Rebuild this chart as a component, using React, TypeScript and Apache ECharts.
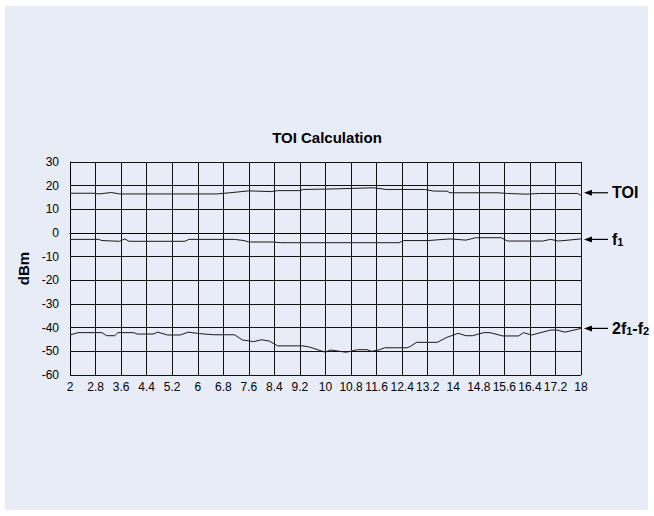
import React, { useEffect, useRef } from 'react';
import * as echarts from 'echarts';

// Frequency axis (GHz): ticks every 0.8 GHz starting at 2 GHz
const X0 = 2;
const X_STEP = 0.8;
const xTickLabels = ['2', '2.8', '3.6', '4.4', '5.2', '6', '6.8', '7.6', '8.4', '9.2', '10', '10.8', '11.6', '12.4', '13.2', '14', '14.8', '15.6', '16.4', '17.2', '18'];
const yMin = -60;
const yMax = 30;
const yStep = 10;

// [frequency GHz, dBm]
const toiData: [number, number][] = [
  [2.0, 16.8], [2.75, 16.8], [2.9, 16.5], [3.3, 17.1], [3.55, 16.5], [6.6, 16.5], [7.0, 17.0],
  [7.6, 17.8], [8.3, 17.5], [8.5, 17.9], [9.2, 17.9], [9.3, 18.4], [10.2, 18.6], [11.5, 19.1],
  [11.9, 18.4], [13.1, 18.4], [13.4, 17.7], [13.8, 17.7], [13.9, 17.0], [15.4, 17.0], [15.7, 16.7],
  [16.3, 16.4], [16.7, 16.7], [17.9, 16.7], [18.0, 15.8],
];

const f1Data: [number, number][] = [
  [2.0, -2.7], [2.9, -2.7], [3.0, -3.2], [3.55, -3.5], [3.72, -2.5], [3.85, -3.5], [5.6, -3.5],
  [5.72, -2.7], [7.15, -2.7], [7.45, -3.2], [7.6, -3.8], [8.35, -3.8], [8.6, -4.1], [12.3, -4.1],
  [12.45, -3.2], [13.2, -3.2], [13.9, -2.5], [14.4, -3.0], [14.7, -2.0], [15.5, -2.0], [15.7, -3.4],
  [16.8, -3.4], [17.05, -2.7], [17.3, -3.4], [18.0, -2.5],
];

const imdData: [number, number][] = [
  [2.0, -43.1], [2.25, -42.1], [3.0, -42.1], [3.15, -43.4], [3.4, -43.4], [3.5, -42.1], [4.0, -42.1],
  [4.1, -42.7], [4.6, -42.7], [4.75, -41.9], [5.05, -43.1], [5.45, -43.1], [5.7, -41.9], [6.05, -42.5],
  [6.5, -43.0], [7.15, -43.0], [7.4, -45.2], [7.75, -45.9], [8.0, -45.1], [8.25, -45.7], [8.5, -47.7],
  [9.3, -47.7], [9.5, -48.2], [10.0, -50.4], [10.15, -49.4], [10.45, -50.0], [10.65, -50.4], [11.0, -49.3],
  [11.3, -49.3], [11.45, -50.0], [11.7, -49.3], [11.85, -48.5], [12.55, -48.5], [12.65, -48.0], [12.85, -46.2],
  [13.5, -46.2], [13.8, -44.1], [14.15, -42.4], [14.4, -43.4], [14.6, -43.4], [14.95, -42.1], [15.15, -42.1],
  [15.55, -43.5], [16.05, -43.5], [16.2, -42.1], [16.45, -43.1], [17.05, -41.0], [17.25, -41.0], [17.5, -41.9],
  [18.0, -40.3],
];

// Right-hand annotations: rich-text label and the level (dBm) the arrow points at
const annotationLabels = ['TOI', 'f{s|1}', '2f{s|1}-f{s|2}'];
const annotationLevels = [17.0, -2.7, -40.3];
const annotationFreq = 18;

const FONT = '"Liberation Sans", Arial, Helvetica, sans-serif';

export default function App() {
  const ref = useRef<HTMLDivElement>(null);

  useEffect(() => {
    const chart = echarts.init(ref.current!, null, { renderer: 'svg' });
    const shift = (d: [number, number][]) => d.map(([f, v]) => [f - X0, v]);
    const lineSeries = (name: string, data: [number, number][]) => ({
      name,
      type: 'line',
      data: shift(data),
      showSymbol: false,
      symbol: 'none',
      silent: true,
      lineStyle: { color: '#1a1a1a', width: 1 },
    });

    chart.setOption({
      animation: false,
      backgroundColor: 'transparent',
      textStyle: { fontFamily: FONT },
      title: {
        text: 'TOI Calculation',
        left: 'center',
        top: 125,
        textStyle: { fontFamily: FONT, fontSize: 15, fontWeight: 'bold', color: '#000' },
      },
      grid: { left: 70, right: 73, top: 162, bottom: 141, containLabel: false },
      xAxis: {
        type: 'value',
        min: 0,
        max: (xTickLabels.length - 1) * X_STEP,
        interval: X_STEP,
        axisLine: { show: true, lineStyle: { color: '#000', width: 1 } },
        axisTick: { show: false },
        splitLine: { show: true, lineStyle: { color: '#111', width: 1 } },
        axisLabel: {
          color: '#000',
          fontSize: 12,
          fontFamily: FONT,
          margin: 6,
          formatter: (v: number) => xTickLabels[Math.round(v / X_STEP)] ?? '',
        },
      },
      yAxis: {
        type: 'value',
        min: yMin,
        max: yMax,
        interval: yStep,
        name: 'dBm',
        nameLocation: 'middle',
        nameRotate: 90,
        nameGap: 35,
        nameTextStyle: { fontFamily: FONT, fontSize: 15, fontWeight: 'bold', color: '#000' },
        axisLine: { show: true, lineStyle: { color: '#000', width: 1 } },
        axisTick: { show: false },
        splitLine: { show: true, lineStyle: { color: '#111', width: 1 } },
        axisLabel: { color: '#000', fontSize: 12, fontFamily: FONT, margin: 11 },
      },
      series: [
        lineSeries('TOI', toiData),
        lineSeries('f1', f1Data),
        lineSeries('2f1-f2', imdData),
      ],
    });

    const graphics = annotationLevels.map((lv, i) => {
      const [px, py] = chart.convertToPixel({ gridIndex: 0 }, [annotationFreq - X0, lv]) as number[];
      return {
        type: 'group',
        silent: true,
        children: [
          {
            type: 'line',
            shape: { x1: px + 8, y1: py, x2: px + 27, y2: py },
            style: { stroke: '#000', lineWidth: 1.2 },
          },
          {
            type: 'polygon',
            shape: { points: [[px + 3, py], [px + 11, py - 3], [px + 11, py + 3]] },
            style: { fill: '#000' },
          },
          {
            type: 'text',
            x: px + 31,
            y: py,
            style: {
              text: annotationLabels[i],
              fontFamily: FONT,
              fontSize: 16,
              fontWeight: 'bold',
              fill: '#000',
              verticalAlign: 'middle',
              lineHeight: 16,
              rich: {
                s: { fontSize: 11, fontWeight: 'bold', fontFamily: FONT, verticalAlign: 'bottom', lineHeight: 16, padding: [6, 0, 0, 0] },
              },
            },
          },
        ],
      };
    });
    chart.setOption({ graphic: graphics });

    return () => chart.dispose();
  }, []);

  return (
    <div style={{ position: 'absolute', left: 0, top: 0, width: 654, height: 516, background: '#ffffff' }}>
      <div style={{ position: 'absolute', left: 5, top: 6, width: 643, height: 504, background: '#e8ecf7' }} />
      <div ref={ref} style={{ position: 'absolute', left: 0, top: 0, width: 654, height: 516 }} />
    </div>
  );
}
